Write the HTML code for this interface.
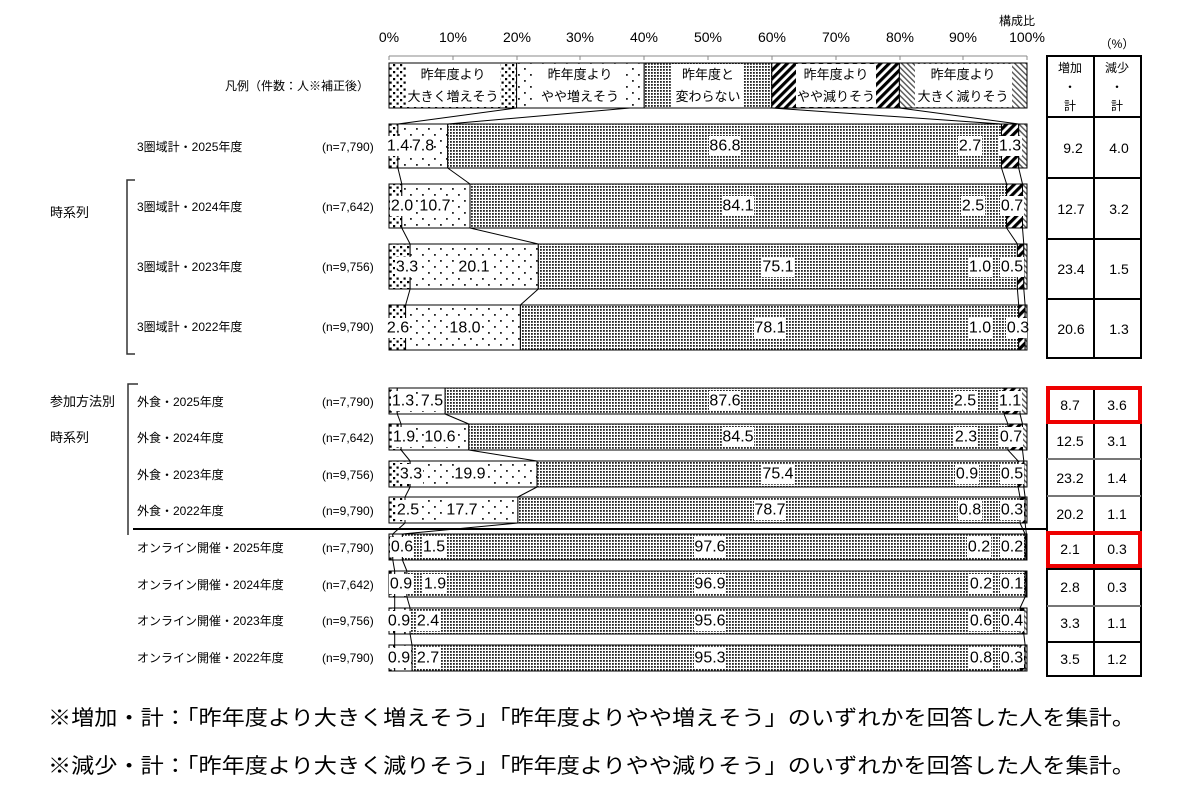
<!DOCTYPE html>
<html><head><meta charset="utf-8"><style>
html,body{margin:0;padding:0;background:#fff;}
svg{display:block;font-family:"Liberation Sans","Noto Sans CJK JP",sans-serif;}
.v{font-size:16px;text-anchor:middle;dominant-baseline:central;fill:#000}
.lb{font-size:12px;fill:#000}
.t{font-size:13px;text-anchor:middle;fill:#000}
</style></head><body>
<svg width="1200" height="801" viewBox="0 0 1200 801" xmlns="http://www.w3.org/2000/svg">
<defs>
<pattern id="p1" width="7" height="7" patternUnits="userSpaceOnUse"><rect width="7" height="7" fill="#fff"/><rect x="1" y="1" width="2.2" height="2.2" fill="#000"/><rect x="4.5" y="4.5" width="2.2" height="2.2" fill="#000"/></pattern>
<pattern id="p2" width="12" height="12" patternUnits="userSpaceOnUse"><rect width="12" height="12" fill="#fff"/><rect x="2" y="2" width="1.8" height="1.8" fill="#222"/><rect x="8" y="8" width="1.8" height="1.8" fill="#222"/></pattern>
<pattern id="p3" width="3" height="3" patternUnits="userSpaceOnUse"><rect width="3" height="3" fill="#fff"/><rect x="0" y="0" width="1.8" height="1.8" fill="#222"/></pattern>
<pattern id="p4" width="6" height="6" patternUnits="userSpaceOnUse" patternTransform="rotate(45)"><rect width="6" height="6" fill="#fff"/><rect width="3.2" height="6" fill="#000"/></pattern>
<pattern id="p5" width="4" height="4" patternUnits="userSpaceOnUse" patternTransform="rotate(-45)"><rect width="4" height="4" fill="#fff"/><rect width="1.4" height="4" fill="#555"/></pattern>
</defs>

<!-- axis -->
<g class="t" font-size="14">
<text x="389" y="42" font-size="14">0%</text><text x="453" y="42" font-size="14">10%</text><text x="517" y="42" font-size="14">20%</text><text x="580" y="42" font-size="14">30%</text><text x="644" y="42" font-size="14">40%</text><text x="708" y="42" font-size="14">50%</text><text x="772" y="42" font-size="14">60%</text><text x="836" y="42" font-size="14">70%</text><text x="900" y="42" font-size="14">80%</text><text x="963" y="42" font-size="14">90%</text><text x="1027" y="42" font-size="14">100%</text>
</g>
<text x="1017" y="25" font-size="12" text-anchor="middle">構成比</text>
<text x="1117" y="48" font-size="12" text-anchor="middle">（%）</text>
<g stroke="#888" stroke-width="1">
<line x1="389" y1="56" x2="1027" y2="56"/>
<line x1="389" y1="56" x2="389" y2="60"/><line x1="453" y1="56" x2="453" y2="60"/><line x1="517" y1="56" x2="517" y2="60"/><line x1="580" y1="56" x2="580" y2="60"/><line x1="644" y1="56" x2="644" y2="60"/><line x1="708" y1="56" x2="708" y2="60"/><line x1="772" y1="56" x2="772" y2="60"/><line x1="836" y1="56" x2="836" y2="60"/><line x1="900" y1="56" x2="900" y2="60"/><line x1="963" y1="56" x2="963" y2="60"/><line x1="1027" y1="56" x2="1027" y2="60"/>
</g>

<!-- legend -->
<text x="225" y="90" class="lb" font-size="12.5">凡例（件数：人※補正後）</text>
<g stroke="#000" stroke-width="1">
<rect x="389" y="63" width="127.6" height="45" fill="url(#p1)"/>
<rect x="516.6" y="63" width="127.6" height="45" fill="url(#p2)"/>
<rect x="644.2" y="63" width="127.6" height="45" fill="url(#p3)"/>
<rect x="771.8" y="63" width="127.6" height="45" fill="url(#p4)"/>
<rect x="899.4" y="63" width="127.6" height="45" fill="url(#p5)"/>
</g>
<g fill="#fff">
<rect x="406" y="64" width="94" height="43"/><rect x="535" y="64" width="90" height="43"/><rect x="672" y="64" width="72" height="43"/><rect x="796" y="64" width="80" height="43"/><rect x="915" y="64" width="97" height="43"/>
</g>
<g class="t">
<text x="453" y="79">昨年度より</text><text x="453" y="101">大きく増えそう</text>
<text x="580" y="79">昨年度より</text><text x="580" y="101">やや増えそう</text>
<text x="708" y="79">昨年度と</text><text x="708" y="101">変わらない</text>
<text x="836" y="79">昨年度より</text><text x="836" y="101">やや減りそう</text>
<text x="963" y="79">昨年度より</text><text x="963" y="101">大きく減りそう</text>
</g>
<g stroke="#000" stroke-width="1">
<line x1="516.6" y1="108" x2="397.9" y2="124"/><line x1="630" y1="108" x2="447.7" y2="124"/><line x1="771.8" y1="108" x2="1001.5" y2="124"/><line x1="899.4" y1="108" x2="1018.7" y2="124"/>
</g>

<!-- left labels -->
<g class="lb">
<text x="137" y="151">3圏域計・2025年度</text><text x="322" y="151">(n=7,790)</text>
<text x="137" y="211">3圏域計・2024年度</text><text x="322" y="211">(n=7,642)</text>
<text x="137" y="271">3圏域計・2023年度</text><text x="322" y="271">(n=9,756)</text>
<text x="137" y="331">3圏域計・2022年度</text><text x="322" y="331">(n=9,790)</text>
<text x="50" y="217" font-size="13">時系列</text>
<text x="50" y="406" font-size="13">参加方法別</text>
<text x="50" y="442" font-size="13">時系列</text>
<text x="137" y="406">外食・2025年度</text><text x="322" y="406">(n=7,790)</text>
<text x="137" y="442">外食・2024年度</text><text x="322" y="442">(n=7,642)</text>
<text x="137" y="479">外食・2023年度</text><text x="322" y="479">(n=9,756)</text>
<text x="137" y="515">外食・2022年度</text><text x="322" y="515">(n=9,790)</text>
<text x="137" y="552">オンライン開催・2025年度</text><text x="322" y="552">(n=7,790)</text>
<text x="137" y="589">オンライン開催・2024年度</text><text x="322" y="589">(n=7,642)</text>
<text x="137" y="625">オンライン開催・2023年度</text><text x="322" y="625">(n=9,756)</text>
<text x="137" y="662">オンライン開催・2022年度</text><text x="322" y="662">(n=9,790)</text>
</g>
<g stroke="#333" stroke-width="1.5" fill="none">
<polyline points="135,180 127,180 127,354 135,354"/>
<polyline points="138,384 128,384 128,535"/>
</g>
<line x1="133" y1="529" x2="1047" y2="529" stroke="#000" stroke-width="2"/>

<!-- bars -->
<g stroke="#000" stroke-width="1">
<rect x="389" y="124" width="8.9" height="44" fill="url(#p1)"/><rect x="397.9" y="124" width="49.8" height="44" fill="url(#p2)"/><rect x="447.7" y="124" width="553.8" height="44" fill="url(#p3)"/><rect x="1001.5" y="124" width="17.2" height="44" fill="url(#p4)"/><rect x="1018.7" y="124" width="8.3" height="44" fill="url(#p5)"/>
<rect x="389" y="184" width="12.8" height="44" fill="url(#p1)"/><rect x="401.8" y="184" width="68.2" height="44" fill="url(#p2)"/><rect x="470" y="184" width="536.6" height="44" fill="url(#p3)"/><rect x="1006.6" y="184" width="15.9" height="44" fill="url(#p4)"/><rect x="1022.5" y="184" width="4.5" height="44" fill="url(#p5)"/>
<rect x="389" y="244" width="21.1" height="45" fill="url(#p1)"/><rect x="410.1" y="244" width="128.2" height="45" fill="url(#p2)"/><rect x="538.3" y="244" width="479.1" height="45" fill="url(#p3)"/><rect x="1017.4" y="244" width="6.4" height="45" fill="url(#p4)"/><rect x="1023.8" y="244" width="3.2" height="45" fill="url(#p5)"/>
<rect x="389" y="305" width="16.6" height="45" fill="url(#p1)"/><rect x="405.6" y="305" width="114.8" height="45" fill="url(#p2)"/><rect x="520.4" y="305" width="498.3" height="45" fill="url(#p3)"/><rect x="1018.7" y="305" width="6.4" height="45" fill="url(#p4)"/><rect x="1025.1" y="305" width="1.9" height="45" fill="url(#p5)"/>
<rect x="389" y="388" width="8.3" height="26" fill="url(#p1)"/><rect x="397.3" y="388" width="47.8" height="26" fill="url(#p2)"/><rect x="445.1" y="388" width="558.9" height="26" fill="url(#p3)"/><rect x="1004" y="388" width="16" height="26" fill="url(#p4)"/><rect x="1020" y="388" width="7" height="26" fill="url(#p5)"/>
<rect x="389" y="424" width="12.1" height="26" fill="url(#p1)"/><rect x="401.1" y="424" width="67.7" height="26" fill="url(#p2)"/><rect x="468.8" y="424" width="539.1" height="26" fill="url(#p3)"/><rect x="1007.9" y="424" width="14.6" height="26" fill="url(#p4)"/><rect x="1022.5" y="424" width="4.5" height="26" fill="url(#p5)"/>
<rect x="389" y="461" width="21.1" height="26" fill="url(#p1)"/><rect x="410.1" y="461" width="126.9" height="26" fill="url(#p2)"/><rect x="537" y="461" width="481.1" height="26" fill="url(#p3)"/><rect x="1018.1" y="461" width="5.7" height="26" fill="url(#p4)"/><rect x="1023.8" y="461" width="3.2" height="26" fill="url(#p5)"/>
<rect x="389" y="497" width="16" height="26" fill="url(#p1)"/><rect x="405" y="497" width="112.9" height="26" fill="url(#p2)"/><rect x="517.9" y="497" width="502.1" height="26" fill="url(#p3)"/><rect x="1020" y="497" width="5.1" height="26" fill="url(#p4)"/><rect x="1025.1" y="497" width="1.9" height="26" fill="url(#p5)"/>
<rect x="389" y="534" width="3.8" height="26" fill="url(#p1)"/><rect x="392.8" y="534" width="9.6" height="26" fill="url(#p2)"/><rect x="402.4" y="534" width="622.7" height="26" fill="url(#p3)"/><rect x="1025.1" y="534" width="1.3" height="26" fill="url(#p4)"/><rect x="1026.4" y="534" width="0.6" height="26" fill="url(#p5)"/>
<rect x="389" y="571" width="5.7" height="26" fill="url(#p1)"/><rect x="394.7" y="571" width="12.2" height="26" fill="url(#p2)"/><rect x="406.9" y="571" width="618.2" height="26" fill="url(#p3)"/><rect x="1025.1" y="571" width="1.3" height="26" fill="url(#p4)"/><rect x="1026.4" y="571" width="0.6" height="26" fill="url(#p5)"/>
<rect x="389" y="608" width="5.7" height="26" fill="url(#p1)"/><rect x="394.7" y="608" width="15.4" height="26" fill="url(#p2)"/><rect x="410.1" y="608" width="609.9" height="26" fill="url(#p3)"/><rect x="1020" y="608" width="3.8" height="26" fill="url(#p4)"/><rect x="1023.8" y="608" width="3.2" height="26" fill="url(#p5)"/>
<rect x="389" y="645" width="5.7" height="26" fill="url(#p1)"/><rect x="394.7" y="645" width="17.3" height="26" fill="url(#p2)"/><rect x="412" y="645" width="608" height="26" fill="url(#p3)"/><rect x="1020" y="645" width="5.1" height="26" fill="url(#p4)"/><rect x="1025.1" y="645" width="1.9" height="26" fill="url(#p5)"/>

<line x1="397.9" y1="168" x2="401.8" y2="184"/><line x1="447.7" y1="168" x2="470" y2="184"/><line x1="1001.5" y1="168" x2="1006.6" y2="184"/><line x1="1018.7" y1="168" x2="1022.5" y2="184"/>
<line x1="401.8" y1="228" x2="410.1" y2="244"/><line x1="470" y1="228" x2="538.3" y2="244"/><line x1="1006.6" y1="228" x2="1017.4" y2="244"/><line x1="1022.5" y1="228" x2="1023.8" y2="244"/>
<line x1="410.1" y1="289" x2="405.6" y2="305"/><line x1="538.3" y1="289" x2="520.4" y2="305"/><line x1="1017.4" y1="289" x2="1018.7" y2="305"/><line x1="1023.8" y1="289" x2="1025.1" y2="305"/>
<line x1="397.3" y1="414" x2="401.1" y2="424"/><line x1="445.1" y1="414" x2="468.8" y2="424"/><line x1="1004" y1="414" x2="1007.9" y2="424"/><line x1="1020" y1="414" x2="1022.5" y2="424"/>
<line x1="401.1" y1="450" x2="410.1" y2="461"/><line x1="468.8" y1="450" x2="537" y2="461"/><line x1="1007.9" y1="450" x2="1018.1" y2="461"/><line x1="1022.5" y1="450" x2="1023.8" y2="461"/>
<line x1="410.1" y1="487" x2="405" y2="497"/><line x1="537" y1="487" x2="517.9" y2="497"/><line x1="1018.1" y1="487" x2="1020" y2="497"/><line x1="1023.8" y1="487" x2="1025.1" y2="497"/>
<line x1="405" y1="523" x2="392.8" y2="534"/><line x1="517.9" y1="523" x2="402.4" y2="534"/><line x1="1020" y1="523" x2="1025.1" y2="534"/><line x1="1025.1" y1="523" x2="1026.4" y2="534"/>
<line x1="392.8" y1="560" x2="394.7" y2="571"/><line x1="402.4" y1="560" x2="406.9" y2="571"/>
<line x1="394.7" y1="597" x2="394.7" y2="608"/><line x1="406.9" y1="597" x2="410.1" y2="608"/><line x1="1025.1" y1="597" x2="1020" y2="608"/>
<line x1="394.7" y1="634" x2="394.7" y2="645"/><line x1="410.1" y1="634" x2="412" y2="645"/><line x1="1023.8" y1="634" x2="1025.1" y2="645"/>
</g>

<g fill="#fff">
<rect x="387" y="136" width="22" height="20"/><rect x="412" y="136" width="22" height="20"/><rect x="709" y="136" width="32" height="20"/><rect x="958" y="136" width="24" height="20"/><rect x="998" y="136" width="24" height="20"/>
<rect x="390" y="196" width="24" height="20"/><rect x="419" y="196" width="32" height="20"/><rect x="722" y="196" width="32" height="20"/><rect x="961" y="196" width="24" height="20"/><rect x="1000" y="196" width="24" height="20"/>
<rect x="395" y="257" width="24" height="20"/><rect x="458" y="257" width="32" height="20"/><rect x="762" y="257" width="32" height="20"/><rect x="968" y="257" width="24" height="20"/><rect x="1000" y="257" width="24" height="20"/>
<rect x="386" y="318" width="24" height="20"/><rect x="449" y="318" width="32" height="20"/><rect x="754" y="318" width="32" height="20"/><rect x="968" y="318" width="24" height="20"/><rect x="1006" y="318" width="21" height="20"/>
<rect x="391" y="391" width="24" height="20"/><rect x="420" y="391" width="24" height="20"/><rect x="709" y="391" width="32" height="20"/><rect x="953" y="391" width="24" height="20"/><rect x="998" y="391" width="24" height="20"/>
<rect x="392" y="427" width="24" height="20"/><rect x="424" y="427" width="32" height="20"/><rect x="722" y="427" width="32" height="20"/><rect x="954" y="427" width="24" height="20"/><rect x="999" y="427" width="24" height="20"/>
<rect x="399" y="464" width="24" height="20"/><rect x="454" y="464" width="32" height="20"/><rect x="762" y="464" width="32" height="20"/><rect x="955" y="464" width="24" height="20"/><rect x="1000" y="464" width="24" height="20"/>
<rect x="396" y="500" width="24" height="20"/><rect x="446" y="500" width="32" height="20"/><rect x="754" y="500" width="32" height="20"/><rect x="958" y="500" width="24" height="20"/><rect x="1000" y="500" width="24" height="20"/>
<rect x="390" y="537" width="24" height="20"/><rect x="422" y="537" width="24" height="20"/><rect x="694" y="537" width="32" height="20"/><rect x="967" y="537" width="24" height="20"/><rect x="1000" y="537" width="24" height="20"/>
<rect x="389" y="574" width="24" height="20"/><rect x="423" y="574" width="24" height="20"/><rect x="694" y="574" width="32" height="20"/><rect x="969" y="574" width="24" height="20"/><rect x="1000" y="574" width="24" height="20"/>
<rect x="387" y="611" width="24" height="20"/><rect x="416" y="611" width="24" height="20"/><rect x="694" y="611" width="32" height="20"/><rect x="969" y="611" width="24" height="20"/><rect x="1000" y="611" width="24" height="20"/>
<rect x="387" y="648" width="24" height="20"/><rect x="416" y="648" width="24" height="20"/><rect x="694" y="648" width="32" height="20"/><rect x="969" y="648" width="24" height="20"/><rect x="1000" y="648" width="24" height="20"/>
</g>
<g class="v">
<text x="398" y="146">1.4</text><text x="423" y="146">7.8</text><text x="725" y="146">86.8</text><text x="970" y="146">2.7</text><text x="1010" y="146">1.3</text>
<text x="402" y="206">2.0</text><text x="435" y="206">10.7</text><text x="738" y="206">84.1</text><text x="973" y="206">2.5</text><text x="1012" y="206">0.7</text>
<text x="407" y="267">3.3</text><text x="474" y="267">20.1</text><text x="778" y="267">75.1</text><text x="980" y="267">1.0</text><text x="1012" y="267">0.5</text>
<text x="398" y="328">2.6</text><text x="465" y="328">18.0</text><text x="770" y="328">78.1</text><text x="980" y="328">1.0</text><text x="1018" y="328">0.3</text>
<text x="403" y="401">1.3</text><text x="432" y="401">7.5</text><text x="725" y="401">87.6</text><text x="965" y="401">2.5</text><text x="1010" y="401">1.1</text>
<text x="404" y="437">1.9</text><text x="440" y="437">10.6</text><text x="738" y="437">84.5</text><text x="966" y="437">2.3</text><text x="1011" y="437">0.7</text>
<text x="411" y="474">3.3</text><text x="470" y="474">19.9</text><text x="778" y="474">75.4</text><text x="967" y="474">0.9</text><text x="1012" y="474">0.5</text>
<text x="408" y="510">2.5</text><text x="462" y="510">17.7</text><text x="770" y="510">78.7</text><text x="970" y="510">0.8</text><text x="1012" y="510">0.3</text>
<text x="402" y="547">0.6</text><text x="434" y="547">1.5</text><text x="710" y="547">97.6</text><text x="979" y="547">0.2</text><text x="1012" y="547">0.2</text>
<text x="401" y="584">0.9</text><text x="435" y="584">1.9</text><text x="710" y="584">96.9</text><text x="981" y="584">0.2</text><text x="1012" y="584">0.1</text>
<text x="399" y="621">0.9</text><text x="428" y="621">2.4</text><text x="710" y="621">95.6</text><text x="981" y="621">0.6</text><text x="1012" y="621">0.4</text>
<text x="399" y="658">0.9</text><text x="428" y="658">2.7</text><text x="710" y="658">95.3</text><text x="981" y="658">0.8</text><text x="1012" y="658">0.3</text>
</g>

<g stroke="#000" stroke-width="2" fill="none">
<rect x="1047" y="56" width="94" height="302"/>
<line x1="1094" y1="56" x2="1094" y2="358"/>
<line x1="1047" y1="117" x2="1141" y2="117"/><line x1="1047" y1="178" x2="1141" y2="178"/><line x1="1047" y1="239" x2="1141" y2="239"/><line x1="1047" y1="299" x2="1141" y2="299"/>
<rect x="1047" y="387" width="94" height="289"/>
<line x1="1094" y1="387" x2="1094" y2="676"/>
<line x1="1047" y1="423" x2="1141" y2="423" stroke="#777"/><line x1="1047" y1="459" x2="1141" y2="459" stroke="#777"/><line x1="1047" y1="496" x2="1141" y2="496" stroke="#777"/><line x1="1047" y1="532" x2="1141" y2="532"/><line x1="1047" y1="569" x2="1141" y2="569"/><line x1="1047" y1="606" x2="1141" y2="606" stroke="#777"/><line x1="1047" y1="642" x2="1141" y2="642"/>
</g>
<g stroke="#e00" stroke-width="4" fill="none">
<rect x="1048" y="388" width="92" height="34"/>
<rect x="1048" y="533" width="92" height="33"/>
</g>
<g font-size="12" text-anchor="middle">
<text x="1070" y="72">増加</text><text x="1070" y="91">・</text><text x="1070" y="110">計</text>
<text x="1117" y="72">減少</text><text x="1117" y="91">・</text><text x="1117" y="110">計</text>
</g>
<g class="v" font-size="14">
<text x="1073" y="148" font-size="14">9.2</text><text x="1119" y="148" font-size="14">4.0</text>
<text x="1071" y="209" font-size="14">12.7</text><text x="1119" y="209" font-size="14">3.2</text>
<text x="1071" y="269" font-size="14">23.4</text><text x="1119" y="269" font-size="14">1.5</text>
<text x="1071" y="329" font-size="14">20.6</text><text x="1119" y="329" font-size="14">1.3</text>
<text x="1070" y="405" font-size="14">8.7</text><text x="1117" y="405" font-size="14">3.6</text>
<text x="1070" y="441" font-size="14">12.5</text><text x="1117" y="441" font-size="14">3.1</text>
<text x="1070" y="478" font-size="14">23.2</text><text x="1117" y="478" font-size="14">1.4</text>
<text x="1070" y="514" font-size="14">20.2</text><text x="1117" y="514" font-size="14">1.1</text>
<text x="1070" y="549" font-size="14">2.1</text><text x="1117" y="549" font-size="14">0.3</text>
<text x="1070" y="587" font-size="14">2.8</text><text x="1117" y="587" font-size="14">0.3</text>
<text x="1070" y="623" font-size="14">3.3</text><text x="1117" y="623" font-size="14">1.1</text>
<text x="1070" y="659" font-size="14">3.5</text><text x="1117" y="659" font-size="14">1.2</text>
</g>

<text x="48" y="725" font-size="21" textLength="1087" lengthAdjust="spacingAndGlyphs">※増加・計：「昨年度より大きく増えそう」「昨年度よりやや増えそう」のいずれかを回答した人を集計。</text>
<text x="48" y="773" font-size="21" textLength="1087" lengthAdjust="spacingAndGlyphs">※減少・計：「昨年度より大きく減りそう」「昨年度よりやや減りそう」のいずれかを回答した人を集計。</text>
</svg>
</body></html>
